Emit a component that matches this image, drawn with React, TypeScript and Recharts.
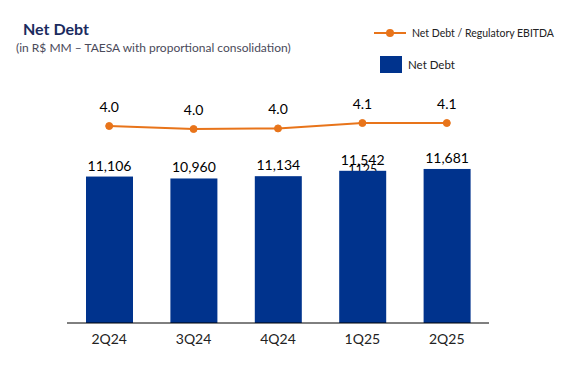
import React from 'react';
import { ComposedChart, Bar, Line, XAxis, YAxis, LabelList } from 'recharts';

const categories = ['2Q24', '3Q24', '4Q24', '1Q25', '2Q25'];
const netDebt = [11106, 10960, 11134, 11542, 11681];
const ratio = [4.02, 3.97, 3.98, 4.07, 4.07];
const overlapLabels = ['', '', '', '1125', ''];

const BAR_COLOR = '#00338D';
const LINE_COLOR = '#E8741A';
const FONT = 'Lato, "Open Sans", sans-serif';

const data = categories.map((c, i) => ({
  cat: c,
  netDebt: netDebt[i],
  ratio: ratio[i],
  ghost: overlapLabels[i],
}));

const BarShape = (props: any) => {
  const { x, y, width, height, fill, payload } = props;
  return (
    <g>
      {payload && payload.ghost ? (
        <text x={x + width / 2} y={y + 3.5} textAnchor="middle" fontSize={12.5} fill="#000" fontFamily={FONT}>
          {payload.ghost}
        </text>
      ) : null}
      <rect x={x} y={y} width={width} height={height} fill={fill} />
    </g>
  );
};

export default function App() {
  return (
    <div style={{ position: 'absolute', left: 0, top: 0, width: 567, height: 378, background: '#fff' }}>
      <svg width={567} height={378} style={{ position: 'absolute', left: 0, top: 0 }}>
        <text x={23} y={35.3} fontSize={16} fontWeight={700} fill="#1B2B5E" fontFamily={FONT}>
          Net Debt
        </text>
        <text x={16} y={52} fontSize={12} fill="#4A4A5A" fontFamily={FONT}>
          (in R$ MM – TAESA with proportional consolidation)
        </text>
        <line x1={374} x2={406} y1={33} y2={33} stroke={LINE_COLOR} strokeWidth={2} />
        <circle cx={390} cy={33} r={4} fill={LINE_COLOR} />
        <text x={412} y={37} fontSize={10.5} fill="#222" fontFamily={FONT}>
          Net Debt / Regulatory EBITDA
        </text>
        <rect x={380} y={56} width={22} height={17} fill={BAR_COLOR} />
        <text x={408} y={69} fontSize={11.5} fill="#222" fontFamily={FONT}>
          Net Debt
        </text>
      </svg>
      <div style={{ position: 'absolute', left: 0, top: 0 }}>
        <ComposedChart
          width={567}
          height={378}
          data={data}
          margin={{ top: 83, right: 78, bottom: 25, left: 67 }}
        >
          <XAxis
            dataKey="cat"
            height={30}
            tickLine={false}
            axisLine={{ stroke: '#000', strokeWidth: 1 }}
            tickMargin={5}
            tick={{ fontSize: 14, fill: '#222', fontFamily: FONT }}
            interval={0}
          />
          <YAxis yAxisId="bar" domain={[0, 18200]} hide />
          <YAxis yAxisId="ratio" orientation="right" domain={[0.737, 4.737]} hide />
          <Bar
            yAxisId="bar"
            dataKey="netDebt"
            fill={BAR_COLOR}
            barSize={47}
            isAnimationActive={false}
            shape={BarShape}
          >
            <LabelList
              dataKey="netDebt"
              position="top"
              offset={6}
              formatter={(v: any) => Number(v).toLocaleString('en-US')}
              style={{ fontSize: 14, fill: '#000', fontFamily: FONT }}
            />
          </Bar>
          <Line
            yAxisId="ratio"
            dataKey="ratio"
            stroke={LINE_COLOR}
            strokeWidth={2}
            dot={{ r: 3.5, fill: LINE_COLOR, stroke: LINE_COLOR, strokeWidth: 1 }}
            isAnimationActive={false}
          >
            <LabelList
              dataKey="ratio"
              position="top"
              offset={14}
              formatter={(v: any) => Number(v).toFixed(1)}
              style={{ fontSize: 14, fill: '#000', fontFamily: FONT }}
            />
          </Line>
        </ComposedChart>
      </div>
    </div>
  );
}
